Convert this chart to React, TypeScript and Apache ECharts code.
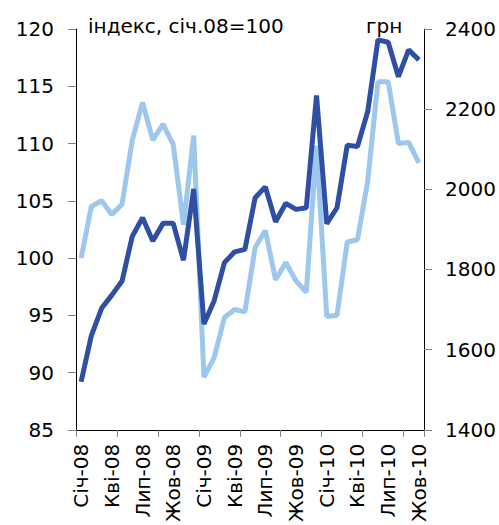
import React, { useEffect, useRef } from "react";
import * as echarts from "echarts";

const categories = [
  "Січ-08", "Лют-08", "Бер-08", "Кві-08", "Тра-08", "Чер-08", "Лип-08", "Сер-08", "Вер-08", "Жов-08", "Лис-08", "Гру-08",
  "Січ-09", "Лют-09", "Бер-09", "Кві-09", "Тра-09", "Чер-09", "Лип-09", "Сер-09", "Вер-09", "Жов-09", "Лис-09", "Гру-09",
  "Січ-10", "Лют-10", "Бер-10", "Кві-10", "Тра-10", "Чер-10", "Лип-10", "Сер-10", "Вер-10", "Жов-10",
];

// Index, Jan 08 = 100 (left axis)
const indexValues = [
  100.0, 104.5, 105.0, 103.8, 104.7, 110.3, 113.6, 110.3, 111.7, 109.9, 102.9, 110.7,
  89.6, 91.3, 94.8, 95.5, 95.3, 100.9, 102.4, 98.1, 99.6, 98.0, 97.0, 109.8,
  94.9, 95.0, 101.4, 101.6, 106.7, 115.4, 115.4, 110.0, 110.1, 108.3,
];

// UAH (right axis)
const uahValues = [
  1520, 1635, 1703, 1736, 1771, 1883, 1929, 1871, 1915, 1915, 1823, 2001,
  1664, 1722, 1817, 1844, 1850, 1979, 2006, 1919, 1965, 1950, 1954, 2234,
  1914, 1954, 2110, 2107, 2194, 2373, 2367, 2281, 2348, 2323,
];

const FONT = "DejaVu Sans";

export default function App() {
  const ref = useRef<HTMLDivElement>(null);

  useEffect(() => {
    if (!ref.current) return;
    const chart = echarts.init(ref.current, null, { renderer: "svg" });
    const axisLabelStyle = { color: "#000", fontSize: 20, fontFamily: FONT };
    chart.setOption({
      animation: false,
      backgroundColor: "#fff",
      grid: { left: 76, right: 75, top: 29, bottom: 94, containLabel: false },
      graphic: [
        {
          type: "text",
          left: 88,
          top: 16,
          style: { text: "індекс, січ.08=100", fontSize: 20, fontFamily: FONT, fill: "#000" },
        },
        {
          type: "text",
          left: 366,
          top: 16,
          style: { text: "грн", fontSize: 20, fontFamily: FONT, fill: "#000" },
        },
      ],
      xAxis: {
        type: "category",
        data: categories,
        boundaryGap: true,
        axisLine: { show: true, lineStyle: { color: "#000", width: 1 } },
        axisTick: { show: true, interval: 3, length: 7, lineStyle: { color: "#808080" } },
        axisLabel: { ...axisLabelStyle, interval: 2, rotate: 90, margin: 14 },
        splitLine: { show: false },
      },
      yAxis: [
        {
          type: "value",
          min: 85,
          max: 120,
          interval: 5,
          position: "left",
          axisLine: { show: true, lineStyle: { color: "#000", width: 1 } },
          axisTick: { show: true, length: 8, lineStyle: { color: "#808080" } },
          axisLabel: { ...axisLabelStyle, margin: 22, formatter: (v: number) => String(v) },
          splitLine: { show: false },
        },
        {
          type: "value",
          min: 1400,
          max: 2400,
          interval: 200,
          position: "right",
          axisLine: { show: true, lineStyle: { color: "#000", width: 1 } },
          axisTick: { show: true, length: 8, lineStyle: { color: "#808080" } },
          axisLabel: { ...axisLabelStyle, margin: 21, formatter: (v: number) => String(v) },
          splitLine: { show: false },
        },
      ],
      series: [
        {
          name: "індекс",
          type: "line",
          yAxisIndex: 0,
          data: indexValues,
          symbol: "none",
          lineStyle: { color: "#9DC7EC", width: 5 },
          itemStyle: { color: "#9DC7EC" },
        },
        {
          name: "грн",
          type: "line",
          yAxisIndex: 1,
          data: uahValues,
          symbol: "none",
          lineStyle: { color: "#2E4FA3", width: 5 },
          itemStyle: { color: "#2E4FA3" },
        },
      ],
    });
    return () => chart.dispose();
  }, []);

  return (
    <div
      ref={ref}
      style={{ position: "fixed", left: 0, top: 0, width: 499, height: 525, background: "#fff" }}
    />
  );
}
